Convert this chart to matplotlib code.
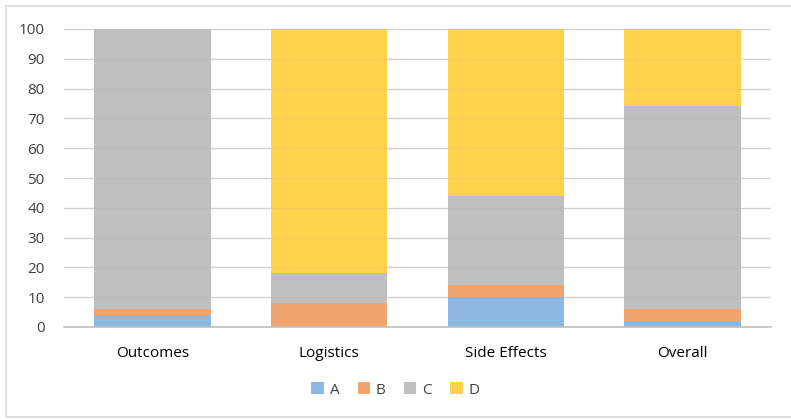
import matplotlib.pyplot as plt
import numpy as np
from matplotlib.patches import Rectangle

categories = ["Outcomes", "Logistics", "Side Effects", "Overall"]
series_names = ["A", "B", "C", "D"]
a_vals = [4, 0, 10, 2]
b_vals = [2, 8, 4, 4]
c_vals = [94, 10, 30, 68]
d_vals = [0, 82, 56, 26]
colors = ["#8DB8E2", "#F0A570", "#BFBFBF", "#FFD24C"]

plt.rcParams["font.family"] = ["Open Sans", "DejaVu Sans"]

fig = plt.figure(figsize=(7.91, 4.20), dpi=100)
# outer chart frame
fig.patches.append(Rectangle((6 / 791, 3 / 420), 790 / 791, 411 / 420,
                             transform=fig.transFigure, fill=False,
                             edgecolor="#D9D9D9", linewidth=1.2))

ax = fig.add_axes([64 / 791, 1 - 327 / 420, (771 - 64) / 791, (327 - 29) / 420])

x = np.arange(len(categories))
bottom = np.zeros(len(categories))
for name, vals, color in zip(series_names, [a_vals, b_vals, c_vals, d_vals], colors):
    ax.bar(x, vals, width=0.66, bottom=bottom, color=color, label=name, zorder=2)
    bottom += np.array(vals)

ax.set_xlim(-0.5, len(categories) - 0.5)
ax.set_ylim(0, 100)
ax.set_yticks(range(0, 101, 10))
ax.set_xticks(x)
ax.set_xticklabels(categories)
ax.grid(axis="y", color="#D9D9D9", linewidth=1, zorder=1)
# faint grid showing through the bars
for yv in range(10, 101, 10):
    ax.axhline(yv, color="#A0A0A0", linewidth=0.8, alpha=0.12, zorder=3)
for side in ["top", "right", "left"]:
    ax.spines[side].set_visible(False)
ax.spines["bottom"].set_color("#BFBFBF")
ax.spines["bottom"].set_linewidth(1.2)
ax.spines["bottom"].set_zorder(4)
ax.tick_params(axis="both", length=0, labelsize=11, colors="#404040")
ax.tick_params(axis="x", pad=14, labelcolor="#000000")
ax.tick_params(axis="y", pad=14)

leg = fig.legend(loc="center", bbox_to_anchor=(0.5, 1 - 390 / 420), ncol=4,
                 frameon=False, fontsize=11, handlelength=0.8, handleheight=0.8,
                 handletextpad=0.4, columnspacing=1.2)
for text in leg.get_texts():
    text.set_color("#404040")

fig.savefig("out.png", dpi=100)
